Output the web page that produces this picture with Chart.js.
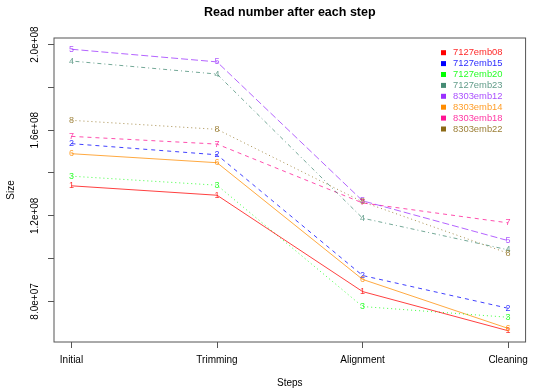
<!DOCTYPE html>
<html>
<head>
    <title>Read number after each step</title>
    <script src="https://cdn.jsdelivr.net/npm/chart.js@4/dist/chart.umd.min.js"></script>
    <style>
        body { margin: 0; background: #fff; }
        #wrap { width: 534px; height: 390px; }
    </style>
</head>
<body>
    <div id="wrap"><canvas id="lineChart"></canvas></div>

    <script>
        // data
        const steps = ['Initial', 'Trimming', 'Alignment', 'Cleaning'];
        const samples = ['7127emb08', '7127emb15', '7127emb20', '7127emb23',
                         '8303emb12', '8303emb14', '8303emb18', '8303emb22'];
        const s7127emb08 = [134.0e6, 129.6e6, 84.6e6, 66.3e6];
        const s7127emb15 = [153.7e6, 148.5e6, 92.1e6, 76.8e6];
        const s7127emb20 = [138.5e6, 134.3e6, 77.6e6, 72.6e6];
        const s7127emb23 = [192.3e6, 186.2e6, 118.9e6, 104.1e6];
        const s8303emb12 = [197.8e6, 191.9e6, 127.0e6, 108.4e6];
        const s8303emb14 = [149.0e6, 144.8e6, 90.3e6, 67.4e6];
        const s8303emb18 = [157.1e6, 153.5e6, 126.0e6, 116.7e6];
        const s8303emb22 = [164.6e6, 160.4e6, 126.5e6, 102.5e6];
        const yTickValues = [80e6, 100e6, 120e6, 140e6, 160e6, 180e6, 200e6];
        const yTickLabels = ['8.0e+07', '', '1.2e+08', '', '1.6e+08', '', '2.0e+08'];

        const series = [s7127emb08, s7127emb15, s7127emb20, s7127emb23,
                        s8303emb12, s8303emb14, s8303emb18, s8303emb22];
        const colors = ['#ff0000', '#0000ff', '#00ff00', '#458b74',
                        '#9b30ff', '#ff8c00', '#ff1493', '#8b6914'];
        // R line types 1..5 recycled
        const dashes = [[], [4, 4], [1, 3], [1, 3, 4, 3], [7, 3], [], [4, 4], [1, 3]];

        const FONT = '"Liberation Sans", Arial, sans-serif';

        function fade(hex, a) {
            const n = parseInt(hex.slice(1), 16);
            return 'rgba(' + (n >> 16) + ',' + ((n >> 8) & 255) + ',' + (n & 255) + ',' + a + ')';
        }

        // R style 4% axis extension
        const allValues = series.flat();
        const yLo = Math.min(...allValues), yHi = Math.max(...allValues);
        const yPad = (yHi - yLo) * 0.04;
        const xPad = (steps.length - 1) * 0.04;

        const datasets = series.map((vals, i) => ({
            label: samples[i],
            data: vals.map((v, j) => ({ x: j + 1, y: v })),
            borderColor: fade(colors[i], 0.75),
            borderWidth: 1,
            borderDash: dashes[i],
            pointRadius: 0,
            fill: false,
            tension: 0
        }));

        // numbers on points, box, title, rotated y labels, legend
        const decor = {
            id: 'decor',
            afterDatasetsDraw(chart) {
                const ctx = chart.ctx;
                ctx.save();
                ctx.font = '9px ' + FONT;
                ctx.textAlign = 'center';
                ctx.textBaseline = 'middle';
                chart.data.datasets.forEach((ds, i) => {
                    const meta = chart.getDatasetMeta(i);
                    ctx.fillStyle = fade(colors[i], 0.8);
                    meta.data.forEach(pt => {
                        ctx.fillText(String(i + 1), pt.x, pt.y);
                    });
                });
                ctx.restore();
            },
            afterDraw(chart) {
                const ctx = chart.ctx;
                const a = chart.chartArea;
                ctx.save();
                ctx.strokeStyle = '#555';
                ctx.lineWidth = 1;
                ctx.strokeRect(a.left, a.top, a.right - a.left, a.bottom - a.top);

                ctx.fillStyle = '#000';
                ctx.font = 'bold 12.5px ' + FONT;
                ctx.textAlign = 'center';
                ctx.textBaseline = 'middle';
                ctx.fillText('Read number after each step', (a.left + a.right) / 2, 13);

                const ys = chart.scales.y;
                ctx.font = '10px ' + FONT;
                yTickValues.forEach((v, k) => {
                    if (!yTickLabels[k]) return;
                    const py = ys.getPixelForValue(v);
                    ctx.save();
                    ctx.translate(35.5, py);
                    ctx.rotate(-Math.PI / 2);
                    ctx.fillText(yTickLabels[k], 0, 0);
                    ctx.restore();
                });

                ctx.font = '9.4px ' + FONT;
                ctx.textAlign = 'left';
                samples.forEach((name, i) => {
                    const ly = 52.7 + i * 10.9;
                    ctx.fillStyle = colors[i];
                    ctx.fillRect(441, ly - 2.5, 5, 5);
                    ctx.fillStyle = fade(colors[i], 0.85);
                    ctx.fillText(name, 453, ly);
                });
                ctx.restore();
            }
        };

        new Chart('lineChart', {
            type: 'line',
            data: { datasets: datasets },
            options: {
                responsive: true,
                maintainAspectRatio: false,
                animation: false,
                layout: { padding: { top: 38, right: 4, left: 0, bottom: 0 } },
                plugins: {
                    legend: { display: false },
                    title: { display: false },
                    tooltip: { enabled: false }
                },
                scales: {
                    x: {
                        type: 'linear',
                        min: 1 - xPad,
                        max: steps.length + xPad,
                        afterBuildTicks: s => { s.ticks = steps.map((_, j) => ({ value: j + 1 })); },
                        afterFit: s => { s.height = 48; },
                        border: { display: false },
                        grid: { drawOnChartArea: false, drawTicks: true, tickLength: 6, color: '#555' },
                        ticks: {
                            padding: 6,
                            maxRotation: 0,
                            color: '#000',
                            font: { family: FONT, size: 10 },
                            callback: v => steps[v - 1]
                        },
                        title: {
                            display: true,
                            text: 'Steps',
                            color: '#000',
                            font: { family: FONT, size: 10 },
                            padding: { top: 0, bottom: 1 }
                        }
                    },
                    y: {
                        min: yLo - yPad,
                        max: yHi + yPad,
                        afterBuildTicks: s => { s.ticks = yTickValues.map(v => ({ value: v })); },
                        afterFit: s => { s.width = 54; },
                        border: { display: false },
                        grid: { drawOnChartArea: false, drawTicks: true, tickLength: 6, color: '#555' },
                        ticks: { display: false },
                        title: {
                            display: true,
                            text: 'Size',
                            color: '#000',
                            font: { family: FONT, size: 10 },
                            padding: { top: 5, bottom: 0 }
                        }
                    }
                }
            },
            plugins: [decor]
        });
    </script>
</body>
</html>
